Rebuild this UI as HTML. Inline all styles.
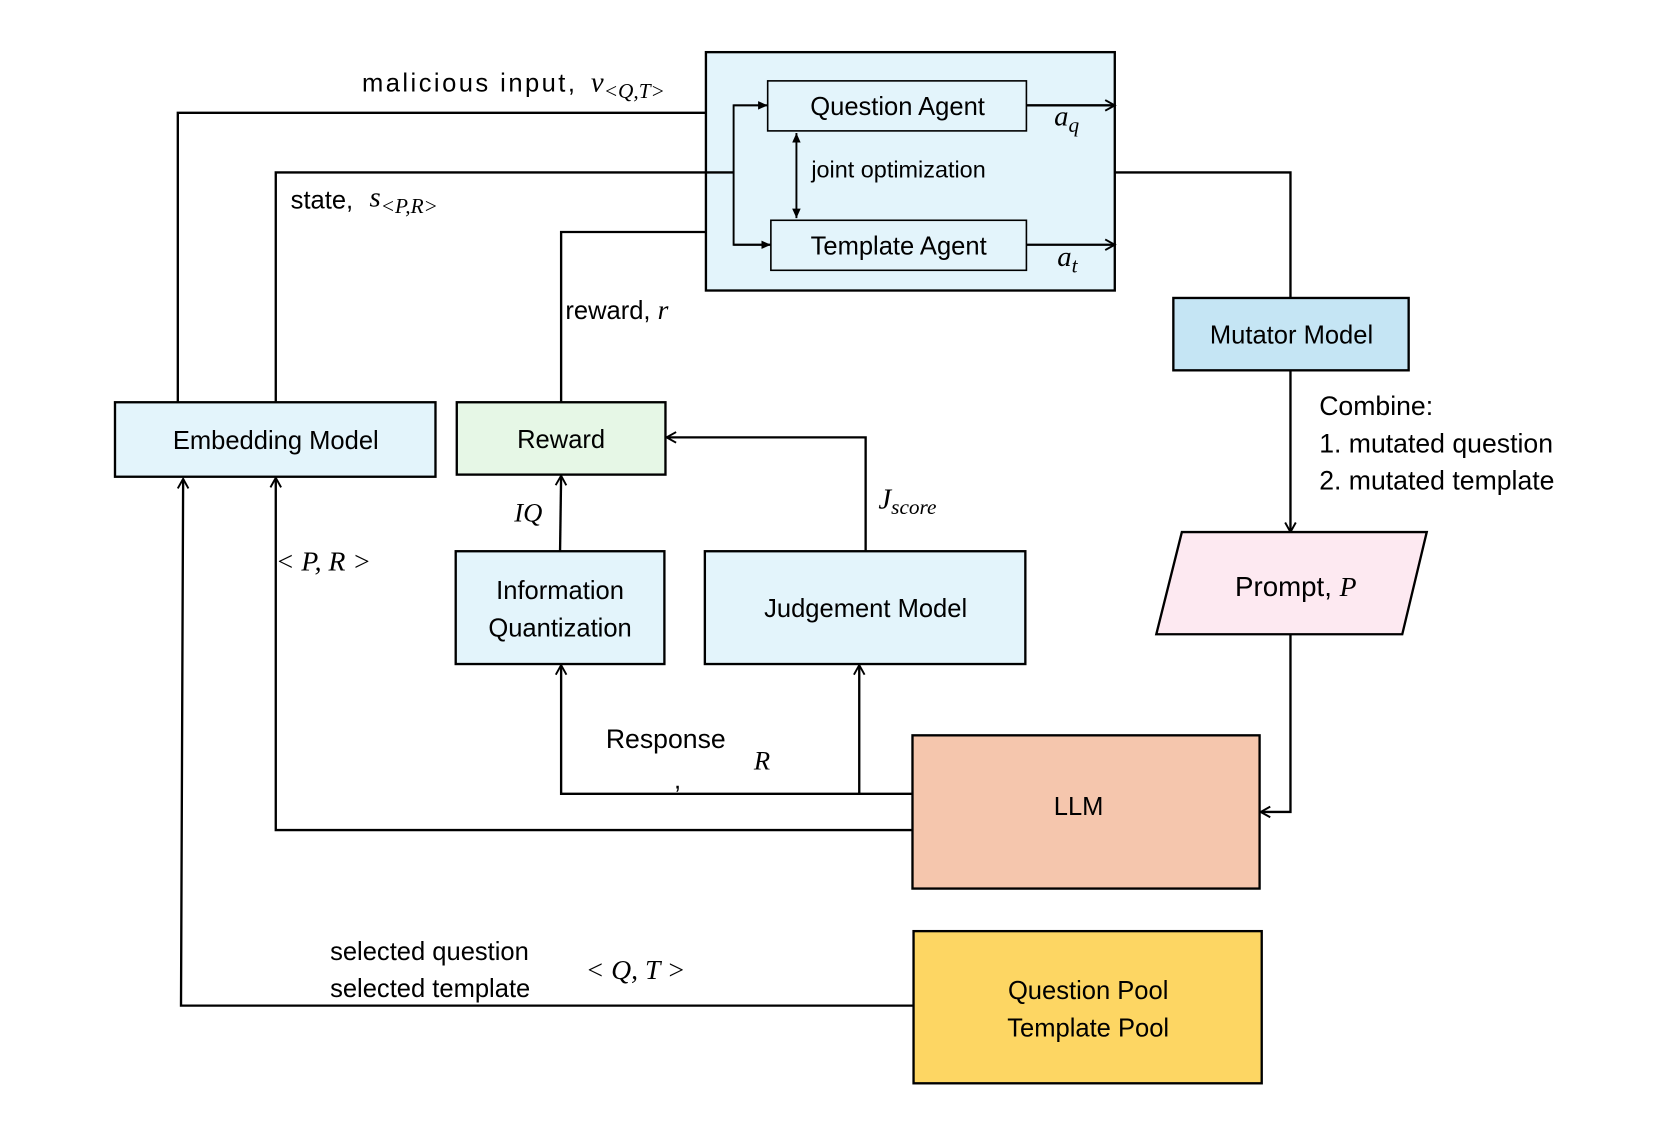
<!DOCTYPE html>
<html><head><style>html,body{margin:0;padding:0;background:#fff}svg{display:block}</style></head>
<body>
<svg width="1661" height="1128" viewBox="0 0 1560 1060" preserveAspectRatio="none" xmlns="http://www.w3.org/2000/svg" font-family="Liberation Sans, DejaVu Sans, sans-serif">
<defs>
<marker id="a" markerWidth="12" markerHeight="12" refX="10" refY="6" orient="auto" markerUnits="userSpaceOnUse"><path d="M1,1 L10,6 L1,11" fill="none" stroke="#000" stroke-width="1.8"/></marker>
<marker id="f" markerWidth="10" markerHeight="10" refX="9" refY="5" orient="auto-start-reverse" markerUnits="userSpaceOnUse"><path d="M0,1 L9,5 L0,9 Z" fill="#000"/></marker>
</defs>
<g transform="translate(-3,-2)">
<g stroke="#000" stroke-width="2.2" fill="none">
<rect x="666" y="51" width="384" height="224" fill="#e3f4fb"/>
<rect x="724" y="78" width="243" height="47" fill="#e3f4fb" stroke-width="1.5"/>
<rect x="727" y="209" width="240" height="47" fill="#e3f4fb" stroke-width="1.5"/>
<line x1="967" y1="101" x2="1050" y2="101" marker-end="url(#a)"/>
<line x1="967" y1="232" x2="1050" y2="232" marker-end="url(#a)"/>
<line x1="751" y1="127" x2="751" y2="207" stroke-width="1.8" marker-start="url(#f)" marker-end="url(#f)"/>
<polyline points="724,101 692,101 692,232 727,232" stroke-width="1.8"/>
<line x1="692" y1="101" x2="724" y2="101" stroke-width="1.8" marker-end="url(#f)"/>
<line x1="692" y1="232" x2="727" y2="232" stroke-width="1.8" marker-end="url(#f)"/>
<polyline points="666,108 170,108 170,380"/>
<polyline points="692,164 262,164 262,380"/>
<polyline points="666,220 530,220 530,380"/>
<polyline points="1050,164 1215,164 1215,282"/>
<rect x="1105" y="282" width="221" height="68" fill="#c5e5f4"/>
<line x1="1215" y1="350" x2="1215" y2="502" marker-end="url(#a)"/>
<polygon points="1113,502 1343,502 1320,598 1089,598" fill="#fde9f1"/>
<polyline points="1215,598 1215,765 1187,765" marker-end="url(#a)"/>
<rect x="860" y="693" width="326" height="144" fill="#f5c6ad"/>
<rect x="861" y="877" width="327" height="143" fill="#fdd663"/>
<polyline points="861,947 173,947 175,452" marker-end="url(#a)"/>
<rect x="111" y="380" width="301" height="70" fill="#e3f4fb"/>
<rect x="432" y="380" width="196" height="68" fill="#e6f7e6"/>
<rect x="431" y="520" width="196" height="106" fill="#e3f4fb"/>
<rect x="665" y="520" width="301" height="106" fill="#e3f4fb"/>
<polyline points="816,520 816,413 629,413" marker-end="url(#a)"/>
<line x1="529" y1="520" x2="530" y2="449" marker-end="url(#a)"/>
<polyline points="860,748 530,748 530,627" marker-end="url(#a)"/>
<line x1="810" y1="748" x2="810" y2="627" marker-end="url(#a)"/>
<polyline points="860,782 262,782 262,451" marker-end="url(#a)"/>
</g>
<g font-size="24" fill="#000" text-anchor="middle">
<text x="846" y="110">Question Agent</text>
<text x="847" y="241">Template Agent</text>
<text x="1216" y="325">Mutator Model</text>
<text x="262" y="424">Embedding Model</text>
<text x="530" y="423">Reward</text>
<text x="529" y="565">Information</text>
<text x="529" y="600">Quantization</text>
<text x="816" y="582">Judgement Model</text>
<text x="1016" y="768">LLM</text>
<text x="1025" y="941">Question Pool</text>
<text x="1025" y="976">Template Pool</text>
<text x="1220" y="562" font-size="26">Prompt, <tspan font-family="Liberation Serif" font-style="italic">P</tspan></text>
</g>
<g font-size="24" fill="#000">
<text x="765" y="169" font-size="22">joint optimization</text>
<text x="343" y="88" textLength="200">malicious input,</text>
<text x="558" y="88" font-family="Liberation Serif" font-style="italic" font-size="27">v<tspan font-size="20" dy="6">&lt;Q,T&gt;</tspan></text>
<text x="276" y="198">state,</text>
<text x="350" y="196" font-family="Liberation Serif" font-style="italic" font-size="27">s<tspan font-size="20" dy="6">&lt;P,R&gt;</tspan></text>
<text x="534" y="302">reward, <tspan font-family="Liberation Serif" font-style="italic" font-size="26">r</tspan></text>
<text x="993" y="120" font-family="Liberation Serif" font-style="italic" font-size="27">a<tspan font-size="20" dy="6">q</tspan></text>
<text x="996" y="252" font-family="Liberation Serif" font-style="italic" font-size="27">a<tspan font-size="20" dy="6">t</tspan></text>
<text x="1242" y="392" font-size="25">Combine:</text>
<text x="1242" y="427" font-size="25">1. mutated question</text>
<text x="1242" y="462" font-size="25">2. mutated template</text>
<text x="828" y="480" font-family="Liberation Serif" font-style="italic" font-size="27">J<tspan font-size="20" dy="5">score</tspan></text>
<text x="486" y="492" font-family="Liberation Serif" font-style="italic" font-size="25">IQ</text>
<text x="262" y="538" font-family="Liberation Serif" font-style="italic" font-size="26">&lt; P, R &gt;</text>
<text x="572" y="705" font-size="25">Response</text>
<text x="636" y="743">,</text>
<text x="711" y="725" font-family="Liberation Serif" font-style="italic" font-size="25">R</text>
<text x="313" y="904">selected question</text>
<text x="313" y="939">selected template</text>
<text x="553" y="922" font-family="Liberation Serif" font-style="italic" font-size="26">&lt; Q, T &gt;</text>
</g>
</g>
</svg>
</body></html>
